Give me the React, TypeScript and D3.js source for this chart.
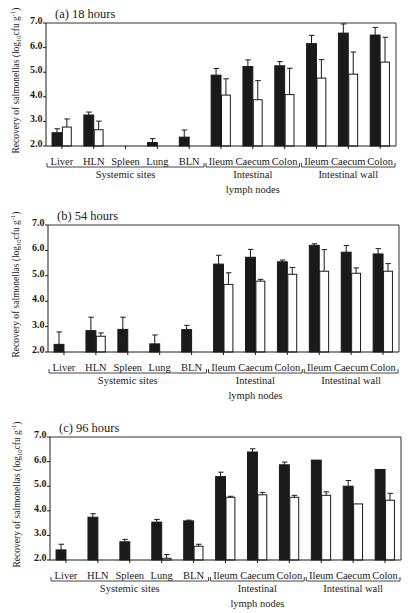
import React from "react";
import * as d3 from "d3";

// ---- data ----
const categories = ["Liver", "HLN", "Spleen", "Lung", "BLN", "Ileum", "Caecum", "Colon", "Ileum", "Caecum", "Colon"];
const groupNames = [["Systemic sites"], ["Intestinal", "lymph nodes"], ["Intestinal wall"]];
const groupSpans = [[0, 4], [5, 7], [8, 10]];
const yTicks = [2, 3, 4, 5, 6, 7];
const titles = ["(a) 18 hours", "(b) 54 hours", "(c) 96 hours"];

const black18 = [2.54, 3.26, null, 2.14, 2.36, 4.88, 5.23, 5.26, 6.16, 6.59, 6.51];
const black18SE = [0.16, 0.12, null, 0.16, 0.29, 0.27, 0.27, 0.17, 0.34, 0.37, 0.31];
const white18 = [2.77, 2.66, null, null, null, 4.07, 3.88, 4.09, 4.76, 4.92, 5.41];
const white18SE = [0.33, 0.35, null, null, null, 0.66, 0.78, 1.07, 0.75, 0.9, 1.01];

const black54 = [2.3, 2.84, 2.89, 2.32, 2.88, 5.46, 5.73, 5.55, 6.2, 5.93, 5.86];
const black54SE = [0.49, 0.53, 0.48, 0.35, 0.17, 0.35, 0.31, 0.07, 0.06, 0.26, 0.21];
const white54 = [null, 2.62, null, null, null, 4.66, 4.79, 5.06, 5.18, 5.1, 5.18];
const white54SE = [null, 0.13, null, null, null, 0.46, 0.07, 0.27, 0.85, 0.21, 0.3];

const black96 = [2.41, 3.74, 2.74, 3.54, 3.59, 5.39, 6.39, 5.87, 6.06, 5.0, 5.68];
const black96SE = [0.23, 0.14, 0.1, 0.11, 0.03, 0.18, 0.13, 0.11, 0, 0.23, 0];
const white96 = [null, null, null, 2.07, 2.56, 4.55, 4.65, 4.55, 4.63, 4.28, 4.43];
const white96SE = [null, null, null, 0.15, 0.08, 0.04, 0.1, 0.08, 0.14, 0, 0.28];

const series = [
  { black: black18, blackSE: black18SE, white: white18, whiteSE: white18SE },
  { black: black54, blackSE: black54SE, white: white54, whiteSE: white54SE },
  { black: black96, blackSE: black96SE, white: white96, whiteSE: white96SE },
];

// ---- layout ----
const layouts = [
  { left: 46, right: 396, top: 23, bottom: 146, labelX: 15 },
  { left: 48, right: 399, top: 225, bottom: 352, labelX: 15 },
  { left: 50, right: 401, top: 437, bottom: 560, labelX: 16 },
];

const FONT = "'Liberation Serif', 'DejaVu Serif', serif";
const INK = "#1a1a1a";

function Panel({ idx }: { idx: number }) {
  const L = layouts[idx];
  const S = series[idx];
  const x = d3
    .scaleBand<number>()
    .domain(categories.map((_, i) => i))
    .range([L.left, L.right])
    .paddingInner(0.38)
    .paddingOuter(0.19);
  const y = d3.scaleLinear().domain([2, 7]).range([L.bottom, L.top]);
  const bw = x.bandwidth() / 2;
  const gap = x.step() - x.bandwidth();

  const bars: React.ReactNode[] = [];
  categories.forEach((_, i) => {
    const x0 = x(i)!;
    const defs = [
      { v: S.black[i], se: S.blackSE[i], bx: x0, fill: INK },
      { v: S.white[i], se: S.whiteSE[i], bx: x0 + bw, fill: "#fff" },
    ];
    defs.forEach((d, k) => {
      if (d.v == null) return;
      const cx = d.bx + bw / 2;
      const yTop = y(d.v);
      bars.push(
        <rect
          key={`b${i}-${k}`}
          x={d.bx + (k === 1 ? 0.5 : 0)}
          y={yTop}
          width={bw - (k === 1 ? 1 : 0)}
          height={L.bottom - yTop}
          fill={d.fill}
          stroke={INK}
          strokeWidth={1}
        />
      );
      if (d.se && d.se > 0) {
        const ye = y(d.v + d.se);
        bars.push(
          <g key={`e${i}-${k}`} stroke={INK} strokeWidth={1}>
            <line x1={cx} x2={cx} y1={yTop} y2={ye} />
            <line x1={cx - 2.5} x2={cx + 3} y1={ye} y2={ye} />
          </g>
        );
      }
    });
  });

  return (
    <g>
      <text x={L.left + 9} y={L.top - 5} fontFamily={FONT} fontSize={12.5} fill={INK}>
        {titles[idx]}
      </text>
      {/* frame */}
      <g stroke="#333" strokeWidth={1} fill="none">
        <line x1={L.left} x2={L.right} y1={L.top} y2={L.top} />
        <line x1={L.right} x2={L.right} y1={L.top} y2={L.bottom} />
      </g>
      {bars}
      <g stroke={INK} strokeWidth={1}>
        <line x1={L.left} x2={L.left} y1={L.top} y2={L.bottom} />
        <line x1={L.left} x2={L.right} y1={L.bottom} y2={L.bottom} />
      </g>
      {/* y ticks */}
      {yTicks.map((t) => (
        <g key={`yt${t}`}>
          <line x1={L.left - 3} x2={L.left} y1={y(t)} y2={y(t)} stroke={INK} />
          <text
            x={L.left - 3.5}
            y={y(t)}
            dy="0.1em"
            textAnchor="end"
            fontFamily={FONT}
            fontSize={10}
            fontWeight="bold"
            fill={INK}
          >
            {d3.format(".1f")(t)}
          </text>
        </g>
      ))}
      {/* x ticks and labels */}
      {categories.map((c, i) => {
        const cx = x(i)! + x.bandwidth() / 2;
        return (
          <g key={`xt${i}`}>
            <line x1={cx} x2={cx} y1={L.bottom} y2={L.bottom + 3} stroke={INK} />
            <text
              x={cx}
              y={L.bottom + 18.5}
              textAnchor="middle"
              fontFamily={FONT}
              fontSize={10.5}
              fill={INK}
            >
              {c}
            </text>
          </g>
        );
      })}
      {/* group brackets */}
      {groupSpans.map(([a, b], gi) => {
        const x0 = x(a)! - gap / 2 + 1;
        const x1 = x(b)! + x.bandwidth() + gap / 2 - 1;
        const yb = L.bottom + 21;
        return (
          <g key={`g${gi}`}>
            <path
              d={`M${x0},${yb - 4}V${yb}H${x1}V${yb - 4}`}
              fill="none"
              stroke="#444"
              strokeWidth={1}
            />
            {groupNames[gi].map((line, li) => (
              <text
                key={li}
                x={(x0 + x1) / 2}
                y={L.bottom + 32 + li * 15}
                textAnchor="middle"
                fontFamily={FONT}
                fontSize={10.5}
                fill={INK}
              >
                {line}
              </text>
            ))}
          </g>
        );
      })}
      {/* y axis label */}
      <text
        transform={`translate(${L.labelX + 3.5},${(L.top + L.bottom) / 2 - 4}) rotate(-90)`}
        textAnchor="middle"
        fontFamily={FONT}
        fontSize={9.5}
        fill={INK}
      >
        <tspan>Recovery of salmonellas (log</tspan>
        <tspan fontSize={6.5} dy={2.5}>10</tspan>
        <tspan dy={-2.5}>cfu  g</tspan>
        <tspan fontSize={6.5} dy={-4}>-1</tspan>
        <tspan dy={4}>)</tspan>
      </text>
    </g>
  );
}

export default function App() {
  return (
    <svg
      width={409}
      height={613}
      viewBox="0 0 409 613"
      style={{ position: "absolute", left: 0, top: 0, background: "#fff" }}
    >
      <rect width={409} height={613} fill="#fff" />
      {[0, 1, 2].map((i) => (
        <Panel key={i} idx={i} />
      ))}
    </svg>
  );
}
